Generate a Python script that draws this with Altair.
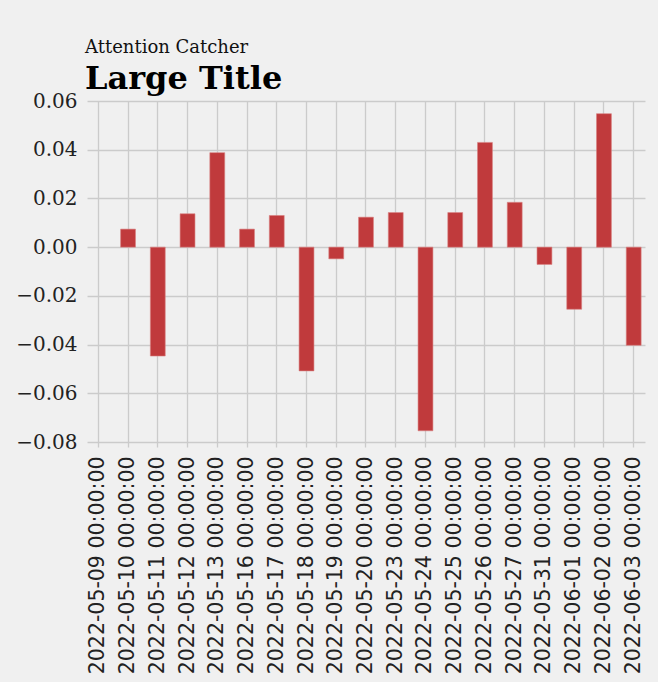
import altair as alt
import pandas as pd

dates = ["2022-05-09 00:00:00", "2022-05-10 00:00:00", "2022-05-11 00:00:00",
         "2022-05-12 00:00:00", "2022-05-13 00:00:00", "2022-05-16 00:00:00",
         "2022-05-17 00:00:00", "2022-05-18 00:00:00", "2022-05-19 00:00:00",
         "2022-05-20 00:00:00", "2022-05-23 00:00:00", "2022-05-24 00:00:00",
         "2022-05-25 00:00:00", "2022-05-26 00:00:00", "2022-05-27 00:00:00",
         "2022-05-31 00:00:00", "2022-06-01 00:00:00", "2022-06-02 00:00:00",
         "2022-06-03 00:00:00"]
changes = [None, 0.0074, -0.0447, 0.0137, 0.0388, 0.0074, 0.0130, -0.0508, -0.0048,
           0.0123, 0.0142, -0.0754, 0.0142, 0.0430, 0.0184, -0.0071, -0.0255,
           0.0548, -0.0403]
y_ticks = [-0.08, -0.06, -0.04, -0.02, 0.0, 0.02, 0.04, 0.06]

df = pd.DataFrame({"date": dates, "change": changes})

chart = alt.Chart(df).mark_bar(color="#c03a3c", stroke="#d88080", strokeWidth=0.6).encode(
    x=alt.X("date:N", sort=None,
            scale=alt.Scale(domain=dates, paddingInner=0.5, paddingOuter=0.13),
            axis=alt.Axis(title=None, labelAngle=270, labelAlign="right", labelBaseline="middle",
                          labelFont="DejaVu Sans", labelFontSize=20.5, labelColor="#222222",
                          labelPadding=9, labelLimit=0, labelOverlap=False,
                          grid=True, gridColor="#cbcbcb", gridWidth=1.3,
                          bandPosition=0.5, ticks=True, tickColor="#cbcbcb", tickSize=5,
                          tickWidth=1.3, domain=False)),
    y=alt.Y("change:Q",
            scale=alt.Scale(domain=[-0.08, 0.06], nice=False, zero=False),
            axis=alt.Axis(title=None, values=y_ticks, format=".2f",
                          labelFont="DejaVu Serif", labelFontSize=20, labelColor="#222222",
                          labelPadding=10, grid=True, gridColor="#cbcbcb", gridWidth=1.3,
                          ticks=False, domain=False)),
).properties(
    width=558,
    height=341,
    autosize=alt.AutoSizeParams(type="none"),
    padding={"left": 87, "top": 101, "right": 13, "bottom": 240},
    title=alt.TitleParams(
        text="Attention Catcher",
        subtitle="Large Title",
        anchor="start",
        frame="group",
        font="DejaVu Serif",
        fontSize=18,
        fontWeight="normal",
        color="#111111",
        subtitleFont="DejaVu Serif",
        subtitleFontSize=32,
        subtitleFontWeight="bold",
        subtitleColor="#000000",
        subtitlePadding=7,
        offset=-4,
        dx=-2,
    ),
).configure(
    background="#f0f0f0"
).configure_view(
    stroke=None
)

chart.save("out.html", embed_options={"renderer": "svg", "actions": False})
